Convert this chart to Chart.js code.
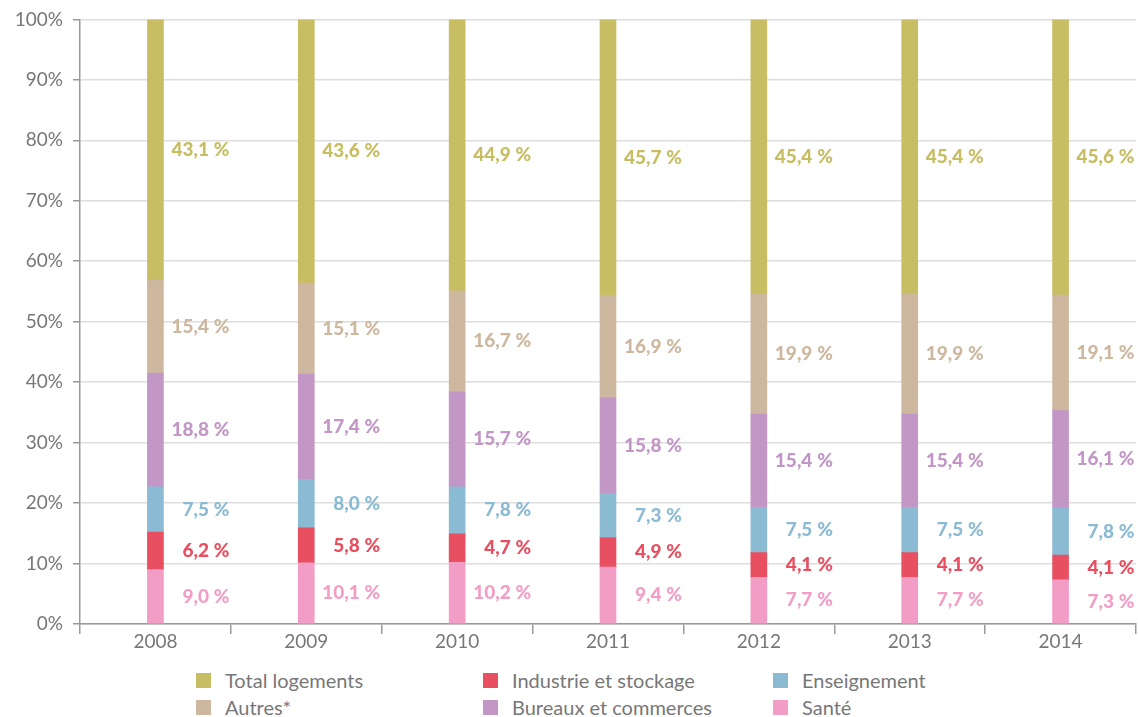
<!DOCTYPE html>
<html>
<head>
<meta charset="utf-8">
<script src="https://cdn.jsdelivr.net/npm/chart.js@4"></script>
<style>
  html, body { margin: 0; padding: 0; background: #fff; overflow: hidden; }
  #wrap { position: relative; width: 1138px; height: 717px; }
  #chartBox { position: absolute; left: 0; top: -2px; width: 1138px; height: 662px; }
  #legend {
    position: absolute; left: 196px; top: 669px;
    display: grid; grid-template-columns: 287px 290px 200px; row-gap: 5px;
    font-family: Lato, sans-serif; font-size: 20px; color: #777;
  }
  .item { display: flex; align-items: center; height: 22px; }
  .sw { width: 15px; height: 15px; margin-right: 14px; flex: none; }
</style>
</head>
<body>
<div id="wrap">
  <div id="chartBox"><canvas id="c"></canvas></div>
  <div id="legend"></div>
</div>
<script>
// years on the x axis
const years = ['2008', '2009', '2010', '2011', '2012', '2013', '2014'];

// share of each sector, in %, bottom to top
const sante        = [9.0, 10.1, 10.2, 9.4, 7.7, 7.7, 7.3];
const industrie    = [6.2, 5.8, 4.7, 4.9, 4.1, 4.1, 4.1];
const enseignement = [7.5, 8.0, 7.8, 7.3, 7.5, 7.5, 7.8];
const bureaux      = [18.8, 17.4, 15.7, 15.8, 15.4, 15.4, 16.1];
const autres       = [15.4, 15.1, 16.7, 16.9, 19.9, 19.9, 19.1];
const logements    = [43.1, 43.6, 44.9, 45.7, 45.4, 45.4, 45.6];

const yTicks = [0, 10, 20, 30, 40, 50, 60, 70, 80, 90, 100];

const colors = {
    sante: '#f29dc5',
    industrie: '#e84f60',
    enseignement: '#8bbad3',
    bureaux: '#c297c6',
    autres: '#cdb89f',
    logements: '#c7bd62'
};

const datasets = [
    { label: 'Santé', data: sante, backgroundColor: colors.sante },
    { label: 'Industrie et stockage', data: industrie, backgroundColor: colors.industrie },
    { label: 'Enseignement', data: enseignement, backgroundColor: colors.enseignement },
    { label: 'Bureaux et commerces', data: bureaux, backgroundColor: colors.bureaux },
    { label: 'Autres*', data: autres, backgroundColor: colors.autres },
    { label: 'Total logements', data: logements, backgroundColor: colors.logements }
];

// legend order as in the original (row by row)
const legendOrder = ['Total logements', 'Industrie et stockage', 'Enseignement',
                     'Autres*', 'Bureaux et commerces', 'Santé'];

function fmt(v) {
    return v.toFixed(1).replace('.', ',') + '\u202F%';
}

// value labels to the right of each segment
const segmentLabels = {
    id: 'segmentLabels',
    afterDatasetsDraw(chart) {
        const ctx = chart.ctx;
        ctx.save();
        ctx.font = '900 19px Lato, sans-serif';
        ctx.textAlign = 'right';
        ctx.textBaseline = 'middle';
        chart.data.datasets.forEach((ds, i) => {
            const meta = chart.getDatasetMeta(i);
            meta.data.forEach((bar, j) => {
                const yMid = (bar.y + bar.base) / 2;
                ctx.fillStyle = ds.backgroundColor;
                ctx.fillText(fmt(ds.data[j]), bar.x + 74, yMid);
            });
        });
        ctx.restore();
    }
};

new Chart(document.getElementById('c'), {
    type: 'bar',
    data: {
        labels: years,
        datasets: datasets.map(d => Object.assign({}, d, {
            barThickness: 16,
            borderWidth: 0
        }))
    },
    options: {
        responsive: true,
        maintainAspectRatio: false,
        animation: false,
        layout: { padding: { top: 15, right: 2, left: 0, bottom: 0 } },
        plugins: {
            legend: { display: false },
            tooltip: { enabled: false }
        },
        scales: {
            x: {
                stacked: true,
                offset: true,
                border: { color: '#999', width: 1.5 },
                grid: {
                    offset: true,
                    drawOnChartArea: false,
                    drawTicks: true,
                    tickLength: 10,
                    color: '#999',
                    lineWidth: 1.5
                },
                ticks: {
                    color: '#777',
                    font: { family: 'Lato, sans-serif', size: 19 },
                    padding: -4
                },
                afterFit(scale) { scale.height = 36; }
            },
            y: {
                stacked: true,
                min: 0,
                max: 100,
                border: { color: '#999', width: 1.5 },
                grid: {
                    color: '#dedede',
                    lineWidth: 1.5,
                    tickLength: 7,
                    tickColor: '#999'
                },
                afterBuildTicks(scale) {
                    scale.ticks = yTicks.map(v => ({ value: v }));
                },
                ticks: {
                    color: '#777',
                    font: { family: 'Lato, sans-serif', size: 19 },
                    padding: 10,
                    callback: v => v + '%'
                },
                afterFit(scale) { scale.width = 80; }
            }
        }
    },
    plugins: [segmentLabels]
});

// html legend
const legendEl = document.getElementById('legend');
legendOrder.forEach(name => {
    const ds = datasets.find(d => d.label === name);
    const item = document.createElement('div');
    item.className = 'item';
    item.innerHTML = '<span class="sw" style="background:' + ds.backgroundColor + '"></span>' + ds.label;
    legendEl.appendChild(item);
});
</script>
</body>
</html>
